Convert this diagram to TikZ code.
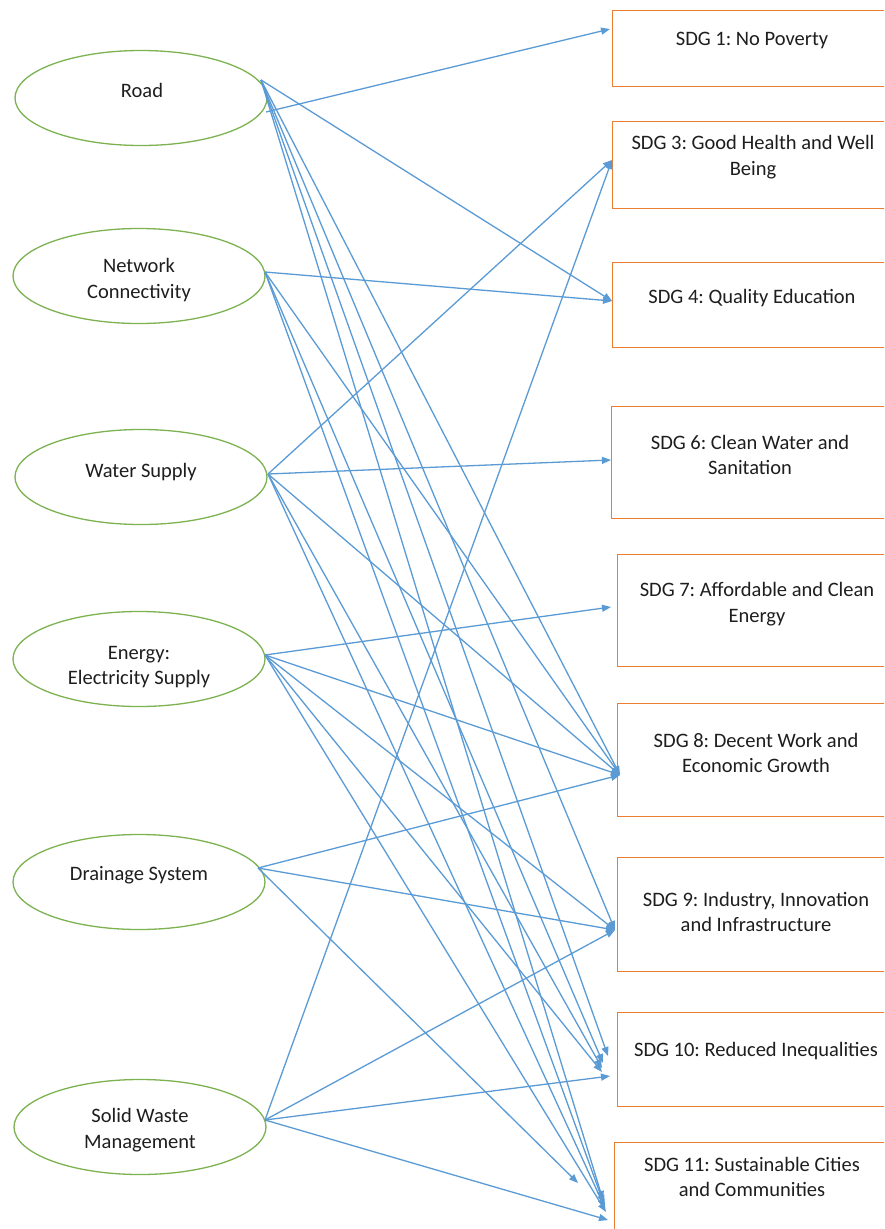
\documentclass[tikz,border=0pt]{standalone}
\usepackage{fontspec}
\setmainfont{Carlito}
\usetikzlibrary{arrows.meta,shapes.geometric}
\definecolor{linkblue}{RGB}{91,155,213}
\definecolor{infragreen}{RGB}{125,178,80}
\definecolor{goalorange}{RGB}{237,125,49}
\definecolor{txt}{RGB}{30,30,30}
\frenchspacing

\begin{document}
\begin{tikzpicture}[x=1pt,y=-1pt,
  infra/.style={draw=infragreen, line width=1.3pt, ellipse, minimum width=252pt, minimum height=95pt, inner sep=0pt},
  goal/.style={draw=goalorange, line width=1.3pt, rectangle, anchor=north west, minimum width=280pt, inner sep=0pt},
  lbl/.style={align=center, font=\fontsize{20.5}{25.5}\selectfont, text=txt, inner sep=0pt},
  link/.style={draw=linkblue, line width=1.3pt, -{Triangle[length=9pt,width=7pt]}}
]
\useasboundingbox (0,0) rectangle (884,1229);
\clip (0,0) rectangle (884,1229);
\fill[white] (0,0) rectangle (884,1229);

% infrastructure sectors
\node[infra] (road)  at (141,98)   {};
\node[infra] (net)   at (139,276)  {};
\node[infra] (water) at (141,477)  {};
\node[infra] (energy) at (139,659) {};
\node[infra] (drain) at (139,882)  {};
\node[infra] (waste) at (140,1127) {};

\node[lbl] (road-t)   at (142,90)   {Road};
\node[lbl] (net-t)    at (139,280)  {Network\\Connectivity};
\node[lbl] (water-t)  at (141,472)  {Water Supply};
\node[lbl] (energy-t) at (139,667)  {Energy:\\Electricity Supply};
\node[lbl] (drain-t)  at (139,875)  {Drainage System};
\node[lbl] (waste-t)  at (140,1130) {Solid Waste\\Management};

% sustainable development goals
\node[goal, minimum height=76pt]  (g1)  at (612,10)   {};
\node[goal, minimum height=87pt]  (g3)  at (612,121)  {};
\node[goal, minimum height=85pt]  (g4)  at (612,262)  {};
\node[goal, minimum height=112pt] (g6)  at (611,406)  {};
\node[goal, minimum height=112pt] (g7)  at (617,554)  {};
\node[goal, minimum height=113pt] (g8)  at (617,703)  {};
\node[goal, minimum height=114pt] (g9)  at (617,857)  {};
\node[goal, minimum height=94pt]  (g10) at (617,1012) {};
\node[goal, minimum height=100pt] (g11) at (614,1142) {};

\node[lbl] (g1-t)  at (752,40)   {SDG 1: No Poverty};
\node[lbl] (g3-t)  at (753,157)  {SDG 3: Good Health and Well\\Being};
\node[lbl] (g4-t)  at (752,298)  {SDG 4: Quality Education};
\node[lbl] (g6-t)  at (750,455)  {SDG 6: Clean Water and\\Sanitation};
\node[lbl] (g7-t)  at (757,604)  {SDG 7: Affordable and Clean\\Energy};
\node[lbl] (g8-t)  at (756,753)  {SDG 8: Decent Work and\\Economic Growth};
\node[lbl] (g9-t)  at (756,912)  {SDG 9: Industry, Innovation\\and Infrastructure};
\node[lbl] (g10-t) at (756,1051) {SDG 10: Reduced Inequalities};
\node[lbl] (g11-t) at (752,1177) {SDG 11: Sustainable Cities\\and Communities};

% connector ports on the sectors
\coordinate (road-o)   at (261,80);
\coordinate (road-o2)  at (266,112);
\coordinate (net-o)    at (265,272);
\coordinate (water-o)  at (268,474);
\coordinate (energy-o) at (265,655);
\coordinate (drain-o)  at (258,868);
\coordinate (waste-o)  at (265,1120);

% arrow tips on the goals
\coordinate (g1-in)  at (610,29);
\coordinate (g3-in)  at (612,160);
\coordinate (g4-in)  at (612,301);
\coordinate (g6-in)  at (611,460);
\coordinate (g7-in)  at (611,607);
\coordinate (g8-in)  at (620,775);
\coordinate (g9-in)  at (615,930);
\coordinate (g10-a)  at (608,1056);
\coordinate (g10-b)  at (603,1063);
\coordinate (g10-c)  at (602,1068);
\coordinate (g10-d)  at (602,1072);
\coordinate (g10-e)  at (610,1076);
\coordinate (g11-a)  at (603,1200);
\coordinate (g11-b)  at (604,1204);
\coordinate (g11-c)  at (605,1208);
\coordinate (g11-d)  at (606,1212);
\coordinate (g11-e)  at (578,1183);
\coordinate (g11-f)  at (608,1220);

% Road
\draw[link] (road-o2) -- (g1-in);
\draw[link] (road-o) -- (g4-in);
\draw[link] (road-o) -- (g8-in);
\draw[link] (road-o) -- (g9-in);
\draw[link] (road-o) -- (g10-a);
\draw[link] (road-o) -- (g11-a);
% Network connectivity
\draw[link] (net-o) -- (g4-in);
\draw[link] (net-o) -- (g8-in);
\draw[link] (net-o) -- (g10-b);
\draw[link] (net-o) -- (g11-b);
% Water supply
\draw[link] (water-o) -- (g3-in);
\draw[link] (water-o) -- (g6-in);
\draw[link] (water-o) -- (g8-in);
\draw[link] (water-o) -- (g10-c);
\draw[link] (water-o) -- (g11-c);
% Energy
\draw[link] (energy-o) -- (g7-in);
\draw[link] (energy-o) -- (g8-in);
\draw[link] (energy-o) -- (g9-in);
\draw[link] (energy-o) -- (g10-d);
\draw[link] (energy-o) -- (g11-d);
% Drainage
\draw[link] (drain-o) -- (g8-in);
\draw[link] (drain-o) -- (g9-in);
\draw[link] (drain-o) -- (g11-e);
% Solid waste
\draw[link] (waste-o) -- (g3-in);
\draw[link] (waste-o) -- (g9-in);
\draw[link] (waste-o) -- (g10-e);
\draw[link] (waste-o) -- (g11-f);
\end{tikzpicture}
\end{document}
